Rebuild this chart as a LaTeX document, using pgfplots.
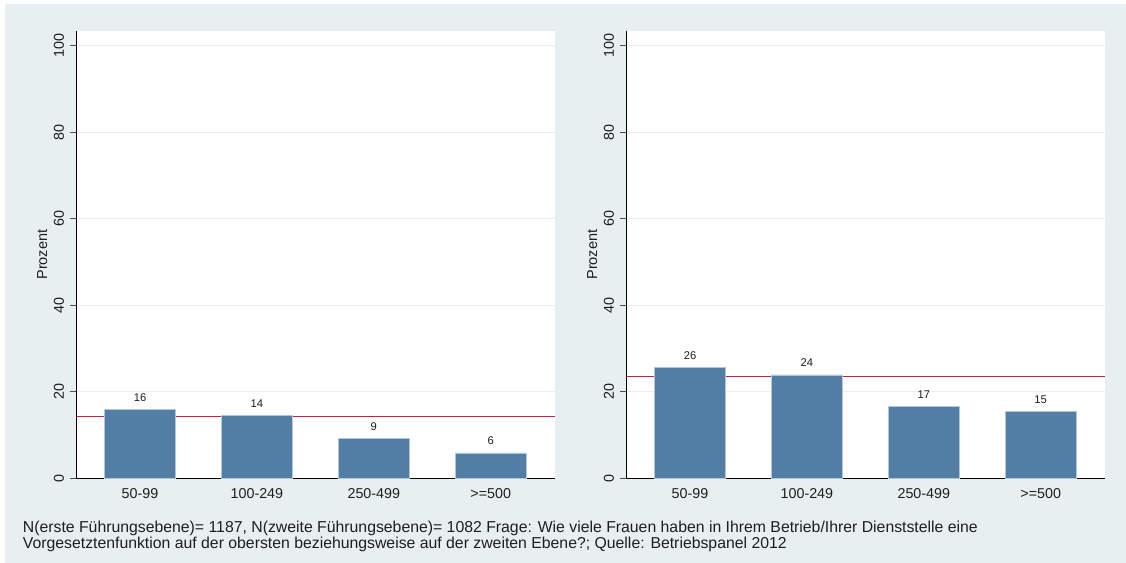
\documentclass[border=0pt]{standalone}
\usepackage{fontspec}
\setmainfont{Liberation Sans}
\usepackage{pgfplots}
\pgfplotsset{compat=1.18}
\definecolor{bgc}{RGB}{232,239,241}
\definecolor{gridc}{RGB}{230,238,240}
\definecolor{barc}{RGB}{82,125,165}
\definecolor{baredge}{RGB}{175,198,220}
\definecolor{redl}{RGB}{206,26,68}
\definecolor{txt}{RGB}{30,30,30}

\pgfplotsset{
  panel/.style={
    scale only axis, width=478.7bp, height=447.3bp,
    anchor=south west,
    xmin=-0.545, xmax=3.55, ymin=0, ymax=103.4,
    axis lines*=left,
    axis line style={black, line width=0.9bp},
    axis background/.style={fill=white},
    xtick={0,1,2,3},
    xticklabels={50-99,100-249,250-499,>=500},
    ytick={0,20,40,60,80,100},
    ymajorgrids, grid style={gridc, line width=1bp},
    tick align=outside, major tick length=6bp,
    xtick style={draw=none},
    ytick style={black!70, line width=0.6bp},
    /pgf/number format/assume math mode=true,
    tick label style={font=\fontsize{14.3bp}{16bp}\selectfont, text=txt},
    yticklabel style={rotate=90, anchor=south, inner sep=0pt, yshift=6bp},
    xticklabel style={anchor=north, inner sep=0pt, yshift=-4bp},
    ylabel={Prozent},
    ylabel style={at={(axis description cs:-0.06,0.5)}, anchor=south, inner sep=0pt,
      font=\fontsize{14.5bp}{16bp}\selectfont, text=txt},
  },
  valbars/.style={ybar, bar width=0.61, fill=barc, draw=baredge, line width=0.5bp,
    nodes near coords, point meta=explicit symbolic,
    every node near coord/.append style={anchor=base, yshift=8bp, inner sep=0pt,
      font=\fontsize{11.2bp}{13bp}\selectfont, text=txt}},
  refline/.style={redl, line width=1.2bp, forget plot},
}

\begin{document}
\begin{tikzpicture}
\path[fill=white] (0,0) rectangle (1126bp,563bp);
\fill[bgc] (5bp,0) rectangle (1126bp,559bp);

\begin{axis}[panel, at={(76.3bp,84.7bp)}]
  \addplot[refline] coordinates {(-0.545,14.35) (3.55,14.35)};
  \addplot[valbars] coordinates {(0,16.0)[16] (1,14.5)[14] (2,9.15)[9] (3,5.85)[6]};
\end{axis}

\begin{axis}[panel, at={(626.3bp,84.7bp)}]
  \addplot[refline] coordinates {(-0.545,23.6) (3.55,23.6)};
  \addplot[valbars] coordinates {(0,25.6)[26] (1,23.9)[24] (2,16.55)[17] (3,15.4)[15]};
\end{axis}

\node[anchor=base west, inner sep=0pt, font=\fontsize{15.8bp}{17bp}\selectfont, text=txt]
  at (22.7bp,31bp) {N(erste Führungsebene)= 1187, N(zweite Führungsebene)= 1082 Frage: Wie viele Frauen haben in Ihrem Betrieb/Ihrer Dienststelle eine};
\node[anchor=base west, inner sep=0pt, font=\fontsize{15.8bp}{17bp}\selectfont, text=txt]
  at (22.7bp,15bp) {Vorgesetztenfunktion auf der obersten beziehungsweise auf der zweiten Ebene?; Quelle: Betriebspanel 2012};
\end{tikzpicture}
\end{document}
